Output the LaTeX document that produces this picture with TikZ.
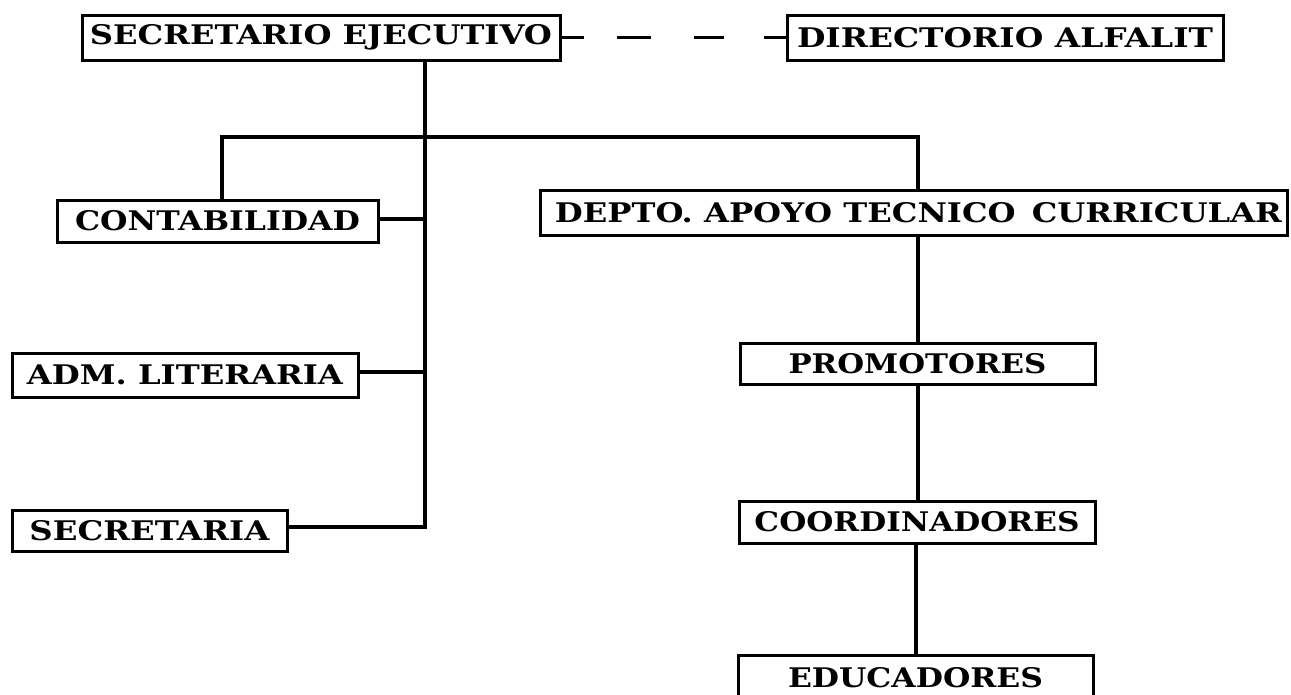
\documentclass[tikz,border=0pt]{standalone}
\usepackage{fontspec}
\setmainfont{DejaVu Serif}
\usepackage{graphicx}
\newcommand{\fitw}[2]{\resizebox{#1}{\height}{#2}}
\tikzset{
  orgbox/.style={draw=black, line width=3pt, rectangle, inner sep=0pt,
    font=\fontsize{27}{30}\selectfont\bfseries},
  conn/.style={draw=black, line width=4pt, line cap=rect},
}
\begin{document}
\begin{tikzpicture}[x=1pt,y=-1pt]
\useasboundingbox (0,0) rectangle (1291,694);
\clip (0,0) rectangle (1291,694);
\fill[white] (0,0) rectangle (1291,694);

\node[orgbox, minimum width=478pt, minimum height=45pt] (se) at (321,37.5) {\fitw{462pt}{SECRETARIO EJECUTIVO}};
\node[orgbox, minimum width=436pt, minimum height=45pt] (dir) at (1005,37.5) {\fitw{416pt}{DIRECTORIO ALFALIT}};
\node[orgbox, minimum width=321pt, minimum height=42pt] (cont) at (217.5,221) {\fitw{285pt}{CONTABILIDAD}};
\node[orgbox, minimum width=747pt, minimum height=45pt] (depto) at (913.5,212.5) {\hspace*{10pt}\fitw{727pt}{DEPTO. APOYO TECNICO\hspace{0.5em}CURRICULAR}};
\node[orgbox, minimum width=346pt, minimum height=44pt] (adm) at (185,375) {\fitw{316pt}{ADM. LITERARIA}};
\node[orgbox, minimum width=275pt, minimum height=41pt] (secr) at (149.5,530.5) {\fitw{240pt}{SECRETARIA}};
\node[orgbox, minimum width=355pt, minimum height=41pt] (prom) at (917.5,363.5) {\fitw{258pt}{PROMOTORES}};
\node[orgbox, minimum width=356pt, minimum height=42pt] (coord) at (917,522) {\fitw{325pt}{COORDINADORES}};
\node[orgbox, minimum width=355pt, minimum height=45pt] (educ) at (915.5,677.5) {\fitw{255pt}{EDUCADORES}};

\coordinate (trunk) at (425,527);
\coordinate (barL) at (222,137);
\coordinate (barR) at (918,137);

% dashed link
\draw[black, line width=3pt, dash pattern=on 22pt off 33pt on 34pt off 43pt on 30pt off 40pt on 30pt]
  (se.east) -- (dir.west);

% main trunk
\draw[conn] (trunk |- se.south) -- (trunk) -- (trunk -| secr.east);
\draw[conn] ([yshift=2pt]cont.east) -- ([yshift=2pt]cont.east -| trunk);
\draw[conn] ([yshift=3pt]adm.east) -- ([yshift=3pt]adm.east -| trunk);

% top bar
\draw[conn] (barL |- cont.north) -- (barL) -- (barR) -- (barR |- depto.north);

% right column
\draw[conn] (barR |- depto.south) -- (barR |- prom.north);
\draw[conn] (barR |- prom.south) -- (barR |- coord.north);
\draw[conn] ([xshift=-2pt]barR |- coord.south) -- ([xshift=-2pt]barR |- educ.north);
\end{tikzpicture}
\end{document}
